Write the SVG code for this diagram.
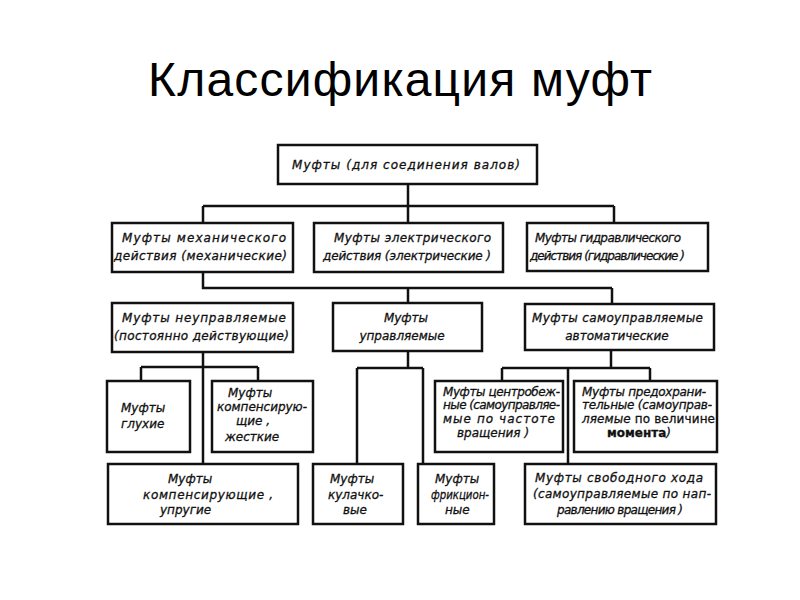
<svg xmlns="http://www.w3.org/2000/svg" width="800" height="600" viewBox="0 0 800 600">
<style>
.b{fill:#fff;stroke:#111;stroke-width:2.5}
.c{fill:none;stroke:#111;stroke-width:2.5}
.t{font-family:"DejaVu Sans",sans-serif;font-style:oblique;font-size:12px;fill:#111;stroke:#111;stroke-width:0.3}
.u{font-style:normal}
.ti{font-family:"Liberation Sans",Arial,sans-serif;font-size:48px;fill:#000}
</style>
<rect width="800" height="600" fill="#fff"/>
<text class="ti" x="148" y="96" textLength="504" lengthAdjust="spacing">Классификация муфт</text>
<g id="connectors">
<path class="c" d="M408,184V206M203,206H614M203,206V223M408,206V223M614,206V223"/>
<path class="c" d="M203,272V288H612M408,288V303M612,288V304"/>
<path class="c" d="M203,352V464M141,367H258M141,367V381M258,367V381"/>
<path class="c" d="M408,351V368M357,368H423M357,368V464M423,368V464"/>
<path class="c" d="M611,350V368M502,368H650M502,368V381M650,368V381M568,368V464"/>
</g>
<g id="n-top"><rect class="b" x="278" y="145" width="259" height="39"/>
<text class="t" x="292" y="169" textLength="228" lengthAdjust="spacing">Муфты (для соединения валов)</text></g>
<g id="n-mech"><rect class="b" x="112" y="223" width="181" height="49"/>
<text class="t" x="122" y="242" textLength="164" lengthAdjust="spacing">Муфты механического</text>
<text class="t" x="114" y="260" textLength="173" lengthAdjust="spacing">действия (механические)</text></g>
<g id="n-elec"><rect class="b" x="314" y="223" width="189" height="49"/>
<text class="t" x="334" y="242" textLength="157" lengthAdjust="spacing">Муфты электрического</text>
<text class="t" x="323" y="260" textLength="168" lengthAdjust="spacing">действия (электрические )</text></g>
<g id="n-hydr"><rect class="b" x="527" y="223" width="181" height="48"/>
<text class="t" x="535" y="242" textLength="146" lengthAdjust="spacing">Муфты гидравлического</text>
<text class="t" x="530" y="260" textLength="155" lengthAdjust="spacing">действия (гидравлические )</text></g>
<g id="n-unctrl"><rect class="b" x="112" y="303" width="181" height="49"/>
<text class="t" x="122" y="322" textLength="164" lengthAdjust="spacing">Муфты неуправляемые</text>
<text class="t" x="114" y="340" textLength="175" lengthAdjust="spacing">(постоянно действующие)</text></g>
<g id="n-ctrl"><rect class="b" x="333" y="303" width="149" height="48"/>
<text class="t" x="406" y="322" text-anchor="middle">Муфты</text>
<text class="t" x="402" y="340" text-anchor="middle">управляемые</text></g>
<g id="n-self"><rect class="b" x="525" y="304" width="189" height="46"/>
<text class="t" x="532" y="322" textLength="171" lengthAdjust="spacing">Муфты самоуправляемые</text>
<text class="t" x="617" y="340" text-anchor="middle">автоматические</text></g>
<g id="n-gluh"><rect class="b" x="107" y="381" width="83" height="71"/>
<text class="t" x="121" y="412">Муфты</text>
<text class="t" x="121" y="428">глухие</text></g>
<g id="n-komp-hard"><rect class="b" x="212" y="381" width="101" height="71"/>
<text class="t" x="228" y="397">Муфты</text>
<text class="t" x="217" y="411" textLength="90" lengthAdjust="spacing">компенсирую-</text>
<text class="t" x="236" y="425">щие ,</text>
<text class="t" x="225" y="441">жесткие</text></g>
<g id="n-centr"><rect class="b" x="435" y="381" width="128" height="71"/>
<text class="t" x="443" y="396" textLength="117" lengthAdjust="spacing">Муфты центробеж-</text>
<text class="t" x="443" y="409" textLength="117" lengthAdjust="spacing">ные (самоуправляе-</text>
<text class="t" x="443" y="423" textLength="112" lengthAdjust="spacing">мые по частоте</text>
<text class="t" x="457" y="437">вращения )</text></g>
<g id="n-safety"><rect class="b" x="574" y="381" width="143" height="71"/>
<text class="t" x="582" y="396" textLength="124" lengthAdjust="spacing">Муфты предохрани-</text>
<text class="t" x="582" y="409" textLength="130" lengthAdjust="spacing">тельные (самоуправ-</text>
<text class="t" x="582" y="423" textLength="133" lengthAdjust="spacing">ляемые <tspan class="u">по величине</tspan></text>
<text class="t" x="607" y="437"><tspan class="u" font-weight="bold">момента</tspan>)</text></g>
<g id="n-elastic"><rect class="b" x="108" y="464" width="190" height="60"/>
<text class="t" x="168" y="483">Муфты</text>
<text class="t" x="143" y="499" textLength="130" lengthAdjust="spacing">компенсирующие ,</text>
<text class="t" x="160" y="514">упругие</text></g>
<g id="n-cam"><rect class="b" x="313" y="464" width="90" height="60"/>
<text class="t" x="330" y="483">Муфты</text>
<text class="t" x="328" y="499">кулачко-</text>
<text class="t" x="343" y="514">вые</text></g>
<g id="n-fric"><rect class="b" x="418" y="464" width="76" height="60"/>
<text class="t" x="435" y="483">Муфты</text>
<text class="t" x="431" y="499" textLength="58" lengthAdjust="spacingAndGlyphs">фрикцион-</text>
<text class="t" x="445" y="514">ные</text></g>
<g id="n-free"><rect class="b" x="525" y="464" width="191" height="60"/>
<text class="t" x="535" y="482" textLength="168" lengthAdjust="spacing">Муфты свободного хода</text>
<text class="t" x="533" y="498" textLength="178" lengthAdjust="spacing">(самоуправляемые по нап-</text>
<text class="t" x="557" y="514" textLength="126" lengthAdjust="spacing">равлению вращения )</text></g>
</svg>
